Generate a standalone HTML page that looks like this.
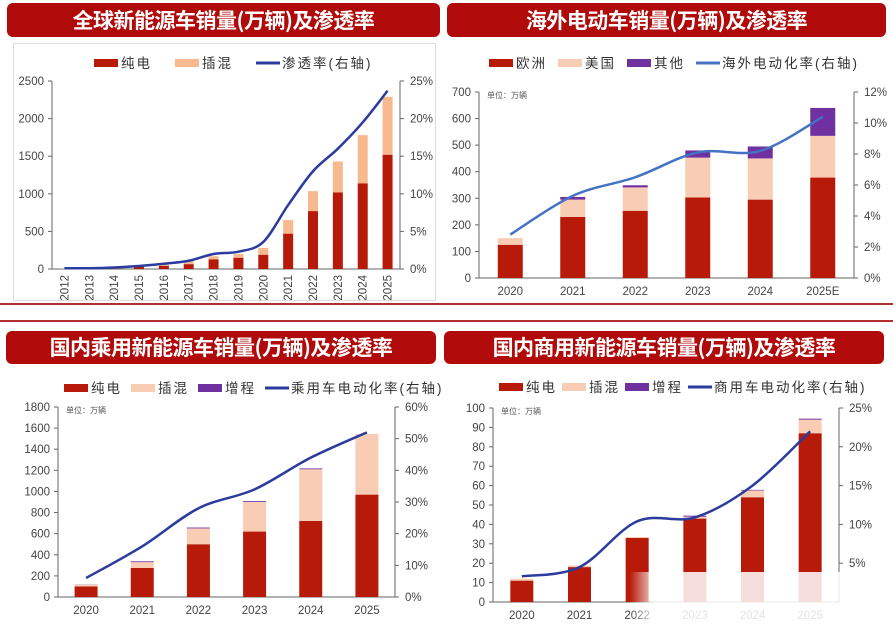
<!DOCTYPE html>
<html><head><meta charset="utf-8">
<style>
body{margin:0;width:893px;height:625px;background:#fff;overflow:hidden;position:relative;font-family:"Liberation Sans","Noto Sans CJK SC",sans-serif}
.banner{position:absolute;background:#B00A0A;border-radius:6px;color:#fff;font-weight:bold;font-size:21px;text-align:center;font-family:"Noto Sans CJK SC",sans-serif;letter-spacing:-0.5px}
.rule{position:absolute;left:0;width:893px;height:2px;background:#B03030}
svg{position:absolute;left:0;top:0}
</style></head><body>
<div class="banner" style="left:7px;top:3px;width:433px;height:34px;line-height:34px">全球新能源车销量(万辆)及渗透率</div>
<div class="banner" style="left:447px;top:3px;width:439px;height:34px;line-height:34px">海外电动车销量(万辆)及渗透率</div>
<div class="banner" style="left:6px;top:331px;width:430px;height:33px;line-height:33px">国内乘用新能源车销量(万辆)及渗透率</div>
<div class="banner" style="left:444px;top:331px;width:440px;height:33px;line-height:33px">国内商用新能源车销量(万辆)及渗透率</div>
<div class="rule" style="top:303px"></div>
<div class="rule" style="top:320px"></div>
<div style="position:absolute;left:13px;top:43px;width:423px;height:258px;border:1px solid #ddd;box-sizing:border-box"></div>
<svg id="s" width="893" height="625"></svg>
<div style="position:absolute;left:630px;top:572px;width:263px;height:53px;background:linear-gradient(to right,rgba(255,255,255,0),rgba(255,255,255,0.85) 25px,rgba(255,255,255,0.85))"></div>
<script>
// Panel 1: global
const g_cats=["2012","2013","2014","2015","2016","2017","2018","2019","2020","2021","2022","2023","2024","2025"];
const g_bev=[2,3,5,30,40,65,130,150,190,470,770,1020,1140,1520];
const g_phev=[3,5,10,20,30,45,40,50,90,180,265,410,640,770];
const g_rate=[0.1,0.1,0.2,0.4,0.7,1.1,2.0,2.3,3.6,8.5,13,16,19.5,23.7];
const g_leftTicks=[0,500,1000,1500,2000,2500];
const g_rightTicks=[0,5,10,15,20,25];
// Panel 2: overseas
const o_cats=["2020","2021","2022","2023","2024","2025E"];
const o_eu=[125,230,253,303,295,378];
const o_us=[25,65,88,150,155,157];
const o_other=[0,10,8,27,45,105];
const o_rate=[2.8,5.3,6.5,8.1,8.2,10.4];
const o_leftTicks=[0,100,200,300,400,500,600,700];
const o_rightTicks=[0,2,4,6,8,10,12];
// Panel 3: passenger
const p_cats=["2020","2021","2022","2023","2024","2025"];
const p_bev=[100,275,500,620,720,970];
const p_phev=[15,55,150,280,490,575];
const p_erev=[2,8,8,8,8,0];
const p_rate=[6,16,28,34,44,52];
const p_leftTicks=[0,200,400,600,800,1000,1200,1400,1600,1800];
const p_rightTicks=[0,10,20,30,40,50,60];
// Panel 4: commercial
const c_cats=["2020","2021","2022","2023","2024","2025"];
const c_bev=[11,18,33,43,54,87];
const c_phev=[1,0.8,0.5,1,3.5,7];
const c_erev=[0,0,0,0.5,0.3,0.5];
const c_rate=[3.3,4.5,10.4,10.9,15,22];
const c_leftTicks=[0,10,20,30,40,50,60,70,80,90,100];
const c_rightTicks=[5,10,15,20,25];

const NS="http://www.w3.org/2000/svg";
const svg=document.getElementById('s');
function mk(tag,attrs,parent){const e=document.createElementNS(NS,tag);for(const k in attrs)e.setAttribute(k,attrs[k]);(parent||svg).appendChild(e);return e;}
function smooth(pts){let d="M"+pts[0][0]+","+pts[0][1];for(let i=0;i<pts.length-1;i++){const p0=pts[i-1]||pts[i],p1=pts[i],p2=pts[i+1],p3=pts[i+2]||p2;const c1=[p1[0]+(p2[0]-p0[0])/6,p1[1]+(p2[1]-p0[1])/6],c2=[p2[0]-(p3[0]-p1[0])/6,p2[1]-(p3[1]-p1[1])/6];d+=" C"+c1+" "+c2+" "+p2;}return d;}
function chart(o){
  const g=mk('g',{});
  
  
  const ly=v=>o.y0-(v/o.lmax)*(o.y0-o.y1);
  const ry=v=>o.y0-(v/o.rmax)*(o.y0-o.y1);
  const band=(o.x1-o.x0)/o.cats.length;
  const cx=i=>o.x0+band*(i+0.5);
  const la=mk('line',{x1:o.x0,y1:o.y1,x2:o.x0,y2:o.y0,stroke:'#666','stroke-width':1},g);
  
  const ra=mk('line',{x1:o.x1,y1:o.y1,x2:o.x1,y2:o.y0,stroke:'#666','stroke-width':1},g);
  
  const xa=mk('line',{x1:o.x0,y1:o.y0,x2:o.x1,y2:o.y0,stroke:'#666','stroke-width':1},g);
  
  o.lt.forEach(v=>{const y=ly(v);mk('line',{x1:o.x0-4,y1:y,x2:o.x0,y2:y,stroke:'#666'},g);
    const t=mk('text',{x:o.x0-8,y:y+4,'text-anchor':'end','font-size':11.5,fill:'#444'},g);t.textContent=v;
    });
  o.rt.forEach(v=>{const y=ry(v);mk('line',{x1:o.x1,y1:y,x2:o.x1+4,y2:y,stroke:'#666'},g);
    const t=mk('text',{x:o.x1+10,y:y+4,'font-size':11.5,fill:'#444'},g);t.textContent=v+'%';
    });
  o.cats.forEach((c,i)=>{let base=0;
    o.series.forEach(s=>{const v=s.data[i];if(v>0){const r=mk('rect',{x:cx(i)-o.bw/2,y:ly(base+v),width:o.bw,height:ly(base)-ly(base+v),fill:s.color},g);
      }base+=v;});
    let t;
    if(o.rot){t=mk('text',{x:0,y:0,'font-size':11.5,fill:'#444','text-anchor':'end',transform:`translate(${cx(i)+4},${o.y0+6}) rotate(-90)`},g);}
    else{t=mk('text',{x:cx(i),y:o.y0+17,'font-size':11.5,fill:'#444','text-anchor':'middle'},g);}
    t.textContent=c;
  });
  const pts=o.rate.map((v,i)=>[cx(i),ry(v)]);
  const p=mk('path',{d:smooth(pts),fill:'none',stroke:o.lineColor,'stroke-width':2.5},g);
  
  if(o.unit){const u=mk('text',{x:o.x0+8,y:o.y1+6,'font-size':8,fill:'#555'},g);u.textContent='单位：万辆';
    }
  let lx=o.legX;
  o.series.forEach(s=>{mk('rect',{x:lx,y:o.legY-4,width:24,height:8,fill:s.color},g);
    const t=mk('text',{x:lx+27,y:o.legY+5,'font-size':13.5,fill:'#333','letter-spacing':2},g);t.textContent=s.label;
    lx+=27+s.label.length*16+o.legGap;});
  mk('line',{x1:lx,y1:o.legY,x2:lx+24,y2:o.legY,stroke:o.lineColor,'stroke-width':3},g);
  const t=mk('text',{x:lx+26,y:o.legY+5,'font-size':13.5,fill:'#333','letter-spacing':2},g);t.textContent=o.lineLabel;
  
}
const RED='#B81A0A',PUR='#7030A0';
chart({name:'global-nev-chart',cats:g_cats,x0:52,x1:400,y0:269,y1:81,lmax:2500,rmax:25,lt:g_leftTicks,rt:g_rightTicks,bw:10,rot:true,
  series:[{key:'bev',label:'纯电',data:g_bev,color:RED},{key:'phev',label:'插混',data:g_phev,color:'#F8B98F'}],
  rate:g_rate,lineColor:'#2B3C9E',lineLabel:'渗透率(右轴)',legX:94,legY:63,legGap:22});
chart({name:'overseas-ev-chart',cats:o_cats,x0:479,x1:854,y0:278,y1:92,lmax:700,rmax:12,lt:o_leftTicks,rt:o_rightTicks,bw:25,unit:true,
  series:[{key:'europe',label:'欧洲',data:o_eu,color:RED},{key:'us',label:'美国',data:o_us,color:'#F9CDB3'},{key:'other',label:'其他',data:o_other,color:PUR}],
  rate:o_rate,lineColor:'#4472C4',lineLabel:'海外电动化率(右轴)',legX:489,legY:63,legGap:10});
chart({name:'passenger-nev-chart',cats:p_cats,x0:58,x1:395,y0:597,y1:407,lmax:1800,rmax:60,lt:p_leftTicks,rt:p_rightTicks,bw:23,unit:true,
  series:[{key:'bev',label:'纯电',data:p_bev,color:RED},{key:'phev',label:'插混',data:p_phev,color:'#F9CDB3'},{key:'erev',label:'增程',data:p_erev,color:PUR}],
  rate:p_rate,lineColor:'#2B3C9E',lineLabel:'乘用车电动化率(右轴)',legX:64,legY:388,legGap:8});
chart({name:'commercial-nev-chart',cats:c_cats,x0:493,x1:839,y0:602,y1:408,lmax:100,rmax:25,lt:c_leftTicks,rt:c_rightTicks,bw:23,unit:true,
  series:[{key:'bev',label:'纯电',data:c_bev,color:RED},{key:'phev',label:'插混',data:c_phev,color:'#F9CDB3'},{key:'erev',label:'增程',data:c_erev,color:PUR}],
  rate:c_rate,lineColor:'#2B3C9E',lineLabel:'商用车电动化率(右轴)',legX:499,legY:387,legGap:4});
</script>
</body></html>
